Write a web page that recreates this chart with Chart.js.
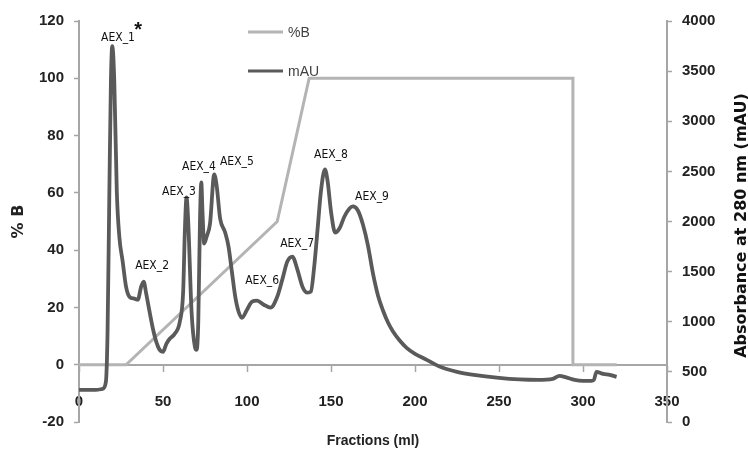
<!DOCTYPE html>
<html>
<head>
<meta charset="utf-8">
<script src="https://cdn.jsdelivr.net/npm/chart.js@4/dist/chart.umd.min.js"></script>
<style>
  html, body { margin: 0; background: #fff; }
  #wrap { width: 748px; height: 449px; }
</style>
</head>
<body>
<div id="wrap"><canvas id="chart"></canvas></div>
<script>
// absorbance trace (mAU, right axis)
const mauX = [0, 10, 14, 16, 17, 18, 19, 19.8, 21, 22.5, 24, 26, 28, 30, 33, 35, 37, 38.5, 40, 42, 44, 46, 48, 50,
  52, 54, 57, 60, 62, 63, 64, 65, 67, 69, 70, 71, 72, 72.8, 73.5, 74.5, 76, 78, 80.5, 82, 84, 87, 89, 91, 93, 95, 97,
  100, 103, 106, 110, 114, 118, 121, 124, 127, 130, 133, 136, 138, 140, 142, 144, 146.4, 148, 150, 152.5, 155, 158,
  161, 163, 166, 169, 172, 175, 178, 181, 184, 187, 191, 195, 200, 207, 215, 225, 235, 250, 262, 273, 282, 286,
  290, 295, 300, 305, 306.5, 308, 312, 316, 320];
const mauY = [320, 320, 330, 400, 900, 2200, 3400, 3750, 3400, 2300, 1850, 1600, 1350, 1250, 1230, 1220, 1350, 1400, 1280, 1100, 930, 800, 720, 700,
  780, 830, 880, 1000, 1300, 1900, 2240, 2000, 1100, 750, 720, 1000, 2000, 2390, 2100, 1780, 1850, 1980, 2470, 2350, 2030, 1890, 1750, 1500, 1250, 1100, 1040,
  1120, 1200, 1210, 1170, 1140, 1250, 1420, 1600, 1650, 1520, 1350, 1290, 1300, 1550, 1920, 2300, 2520, 2400, 2100, 1890, 1930, 2050,
  2130, 2150, 2110, 1970, 1760, 1480, 1260, 1110, 990, 900, 810, 740, 680, 620, 550, 500, 470, 440, 425, 420, 430, 460,
  445, 420, 410, 410, 420, 500, 480, 470, 450];

// gradient (%B, left axis)
const bX = [0, 28, 118, 137, 294, 294, 320];
const bY = [0, 0, 50, 100, 100, 0, 0];

// peak labels, placed in fraction / mAU units
const peakNames = ['AEX_1', 'AEX_2', 'AEX_3', 'AEX_4', 'AEX_5', 'AEX_6', 'AEX_7', 'AEX_8', 'AEX_9'];
const peakX = [23.2, 43.5, 59.5, 71.4, 94, 109, 129.8, 150, 174.4];
const peakY = [3830, 1560, 2300, 2540, 2590, 1410, 1780, 2660, 2250];
const starX = 35.2;
const starY = 3910;

const tickFont = { family: '"Liberation Sans", Arial, sans-serif', size: 15, weight: 'bold' };

function toPoints(xs, ys) {
  return xs.map((x, i) => ({ x: x, y: ys[i] }));
}

// peak names, the star, the right axis title and the legend
const extras = {
  id: 'extras',
  afterDatasetsDraw(chart) {
    const ctx = chart.ctx;
    const xs = chart.scales.x;
    const ys = chart.scales.y1;
    ctx.save();
    ctx.fillStyle = '#111';
    ctx.textAlign = 'center';
    ctx.textBaseline = 'middle';
    ctx.font = '12px "Liberation Sans Narrow", "DejaVu Sans Condensed", Arial, sans-serif';
    peakNames.forEach((name, i) => {
      ctx.fillText(name, xs.getPixelForValue(peakX[i]), ys.getPixelForValue(peakY[i]));
    });
    ctx.font = 'bold 20px "Liberation Sans", Arial, sans-serif';
    ctx.fillText('*', xs.getPixelForValue(starX), ys.getPixelForValue(starY));

    // right axis title, reading bottom to top
    ctx.save();
    ctx.translate(742, (chart.chartArea.top + chart.chartArea.bottom) / 2 + 4);
    ctx.rotate(-Math.PI / 2);
    ctx.font = 'bold 16px "DejaVu Sans", sans-serif';
    ctx.fillStyle = '#111';
    ctx.fillText('Absorbance at 280 nm (mAU)', 0, 0);
    ctx.restore();

    // legend
    ctx.textAlign = 'left';
    ctx.font = '14px "Liberation Sans", Arial, sans-serif';
    const rows = [[chart.data.datasets[1], 32], [chart.data.datasets[0], 71]];
    rows.forEach(([ds, y]) => {
      ctx.strokeStyle = ds.borderColor;
      ctx.lineWidth = 3;
      ctx.beginPath();
      ctx.moveTo(248, y);
      ctx.lineTo(283, y);
      ctx.stroke();
      ctx.fillStyle = '#404040';
      ctx.fillText(ds.label, 288, y + 1);
    });
    ctx.restore();
  }
};

new Chart(document.getElementById('chart'), {
  type: 'line',
  data: {
    datasets: [{
      label: 'mAU',
      data: toPoints(mauX, mauY),
      yAxisID: 'y1',
      borderColor: '#5a5a5a',
      borderWidth: 3.8,
      pointRadius: 0,
      cubicInterpolationMode: 'monotone',
      fill: false
    }, {
      label: '%B',
      data: toPoints(bX, bY),
      yAxisID: 'y',
      borderColor: '#b4b4b4',
      borderWidth: 3,
      pointRadius: 0,
      tension: 0,
      fill: false
    }]
  },
  options: {
    responsive: true,
    maintainAspectRatio: false,
    animation: false,
    layout: { padding: { left: 0, right: 0, top: 21, bottom: 27 } },
    plugins: {
      legend: { display: false },
      tooltip: { enabled: false }
    },
    scales: {
      x: {
        type: 'linear',
        position: { y: 0 },
        min: 0,
        max: 350,
        ticks: { stepSize: 50, padding: 22, maxRotation: 0, autoSkip: false, color: '#222', font: tickFont },
        grid: { drawOnChartArea: false, tickLength: 6, tickColor: '#a6a6a6', tickWidth: 1.5 },
        border: { display: true, color: '#a6a6a6', width: 2 },
        title: { display: true, text: 'Fractions (ml)', color: '#222', padding: { top: 0, bottom: 0 },
          font: { family: '"Liberation Sans", Arial, sans-serif', size: 14, weight: 'bold' } }
      },
      y: {
        position: 'left',
        min: -20,
        max: 120,
        afterFit(scale) { scale.width = 79; },
        ticks: { stepSize: 20, padding: 10, color: '#222', font: tickFont },
        grid: { drawOnChartArea: false, tickLength: 5, tickColor: '#a6a6a6', tickWidth: 1.5 },
        border: { display: true, color: '#a6a6a6', width: 2 },
        title: { display: true, text: '% B', color: '#222', padding: { top: 9, bottom: 0 },
          font: { family: '"DejaVu Sans", sans-serif', size: 16, weight: 'bold' } }
      },
      y1: {
        position: 'right',
        min: 0,
        max: 4000,
        afterFit(scale) { scale.width = 81; },
        ticks: { stepSize: 500, padding: 10, color: '#222', font: tickFont, callback: v => String(v) },
        grid: { drawOnChartArea: false, tickLength: 5, tickColor: '#a6a6a6', tickWidth: 1.5 },
        border: { display: true, color: '#a6a6a6', width: 2 }
      }
    }
  },
  plugins: [extras]
});
</script>
</body>
</html>
